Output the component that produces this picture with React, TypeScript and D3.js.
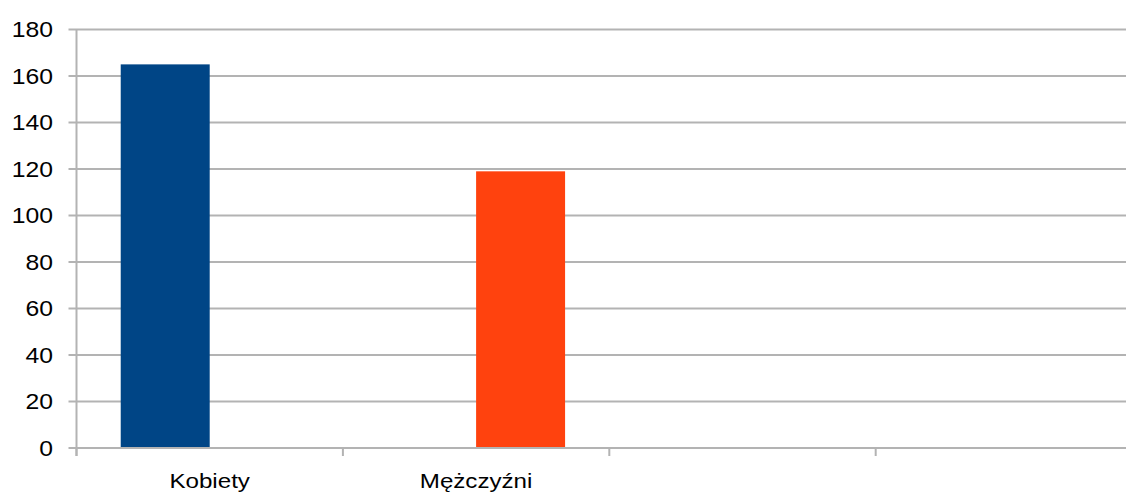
import React from "react";
import * as d3 from "d3";

const categories = ["Kobiety", "Mężczyźni", "", ""];
const seriesNames = ["Kobiety", "Mężczyźni"];
const kobietyValues: (number | null)[] = [165, null, null, null];
const mezczyzniValues: (number | null)[] = [null, 119, null, null];
const yTicks = [0, 20, 40, 60, 80, 100, 120, 140, 160, 180];
const colors = ["#004586", "#ff420e"];

const W = 1126;
const H = 493;
const left = 76.5;
const slot = 266.4;
const right = left + slot * categories.length;
const top = 29.5;
const bottom = 448;
const gridColor = "#b3b3b3";
const font = "'Liberation Sans', Arial, sans-serif";

export default function App() {
  const idx = categories.map((_, i) => String(i));
  const x = d3.scaleBand<string>().domain(idx).range([left, right]).paddingInner(0).paddingOuter(0);
  const x1 = d3
    .scaleBand<string>()
    .domain(seriesNames)
    .range([0, x.bandwidth()])
    .paddingInner(0)
    .paddingOuter(0.497);
  const y = d3.scaleLinear().domain([0, 180]).range([bottom, top]);
  const series = [kobietyValues, mezczyzniValues];

  return (
    <svg
      width={W}
      height={H}
      style={{ position: "absolute", left: 0, top: 0, background: "#fff" }}
    >
      {yTicks.map((t) => (
        <g key={t}>
          <line x1={68.5} x2={right} y1={y(t)} y2={y(t)} stroke={gridColor} strokeWidth={2} />
          <text
            x={53}
            y={y(t)}
            dy="0.36em"
            textAnchor="end"
            fontFamily={font}
            fontSize={21.5}
            fill="#000"
            transform={`translate(53,0) scale(1.15,1) translate(-53,0)`}
          >
            {t}
          </text>
        </g>
      ))}
      <line x1={left} x2={left} y1={top} y2={bottom + 8} stroke={gridColor} strokeWidth={2} />
      {d3.range(categories.length + 1).map((i) => {
        const xx = left + i * x.step();
        return <line key={i} x1={xx} x2={xx} y1={bottom} y2={bottom + 8} stroke={gridColor} strokeWidth={2} />;
      })}
      {series.map((vals, si) =>
        vals.map((v, ci) =>
          v == null ? null : (
            <rect
              key={`${si}-${ci}`}
              x={(x(String(ci)) as number) + (x1(seriesNames[si]) as number)}
              y={y(v)}
              width={x1.bandwidth()}
              height={y(0) - y(v) - 1}
              fill={colors[si]}
            />
          )
        )
      )}
      {categories.map((c, i) => {
        const cx = (x(String(i)) as number) + x.bandwidth() / 2;
        return (
          <text
            key={i}
            x={cx}
            y={488.3}
            textAnchor="middle"
            fontFamily={font}
            fontSize={21}
            fill="#000"
            transform={`translate(${cx},0) scale(1.15,1) translate(${-cx},0)`}
          >
            {c}
          </text>
        );
      })}
    </svg>
  );
}
